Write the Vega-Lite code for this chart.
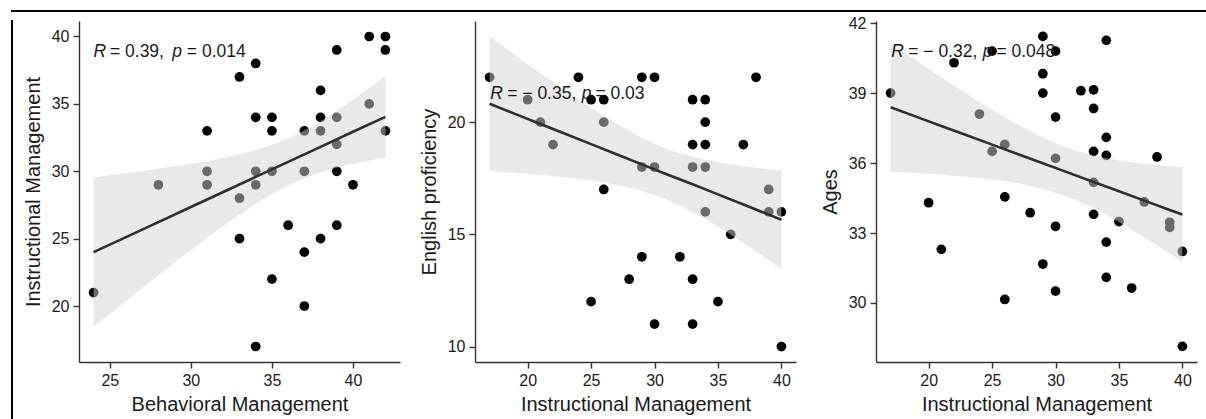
{
  "$schema": "https://vega.github.io/schema/vega-lite/v6.json",
  "padding": {"left": 11, "top": 10, "right": 0, "bottom": 0},
  "autosize": {"type": "pad"},
  "background": "white",
  "config": {
    "view": {"stroke": null},
    "font": "Liberation Sans",
    "axis": {
      "grid": false,
      "labelFont": "Liberation Sans",
      "titleFont": "Liberation Sans",
      "labelFontSize": 16,
      "titleFontSize": 20,
      "titleFontWeight": "normal",
      "labelColor": "#1a1a1a",
      "titleColor": "#1a1a1a",
      "domainColor": "#333333",
      "tickColor": "#333333",
      "domainWidth": 1.4,
      "tickWidth": 1.4,
      "tickSize": 6,
      "labelPadding": 4
    },
    "axisY": {"titlePadding": 8},
    "axisX": {"titlePadding": 6}
  },
  "datasets": {
    "p1pts": [
      {"x": 24, "y": 21}, {"x": 28, "y": 29}, {"x": 31, "y": 33}, {"x": 31, "y": 30}, {"x": 31, "y": 29},
      {"x": 33, "y": 37}, {"x": 33, "y": 28}, {"x": 33, "y": 25}, {"x": 34, "y": 38}, {"x": 34, "y": 34},
      {"x": 34, "y": 30}, {"x": 34, "y": 29}, {"x": 34, "y": 17}, {"x": 35, "y": 34}, {"x": 35, "y": 33},
      {"x": 35, "y": 30}, {"x": 35, "y": 22}, {"x": 36, "y": 26}, {"x": 37, "y": 33}, {"x": 37, "y": 30},
      {"x": 37, "y": 24}, {"x": 37, "y": 20}, {"x": 38, "y": 36}, {"x": 38, "y": 34}, {"x": 38, "y": 33},
      {"x": 38, "y": 25}, {"x": 39, "y": 39}, {"x": 39, "y": 34}, {"x": 39, "y": 32}, {"x": 39, "y": 30},
      {"x": 39, "y": 26}, {"x": 40, "y": 29}, {"x": 41, "y": 40}, {"x": 41, "y": 35}, {"x": 42, "y": 40},
      {"x": 42, "y": 39}, {"x": 42, "y": 33}
    ],
    "p1band": [
      {"x": 24, "lo": 18.46, "hi": 29.54, "fit": 24.0},
      {"x": 26, "lo": 20.38, "hi": 29.85, "fit": 25.12},
      {"x": 28, "lo": 22.28, "hi": 30.18, "fit": 26.23},
      {"x": 30, "lo": 24.15, "hi": 30.55, "fit": 27.35},
      {"x": 32, "lo": 25.94, "hi": 30.99, "fit": 28.46},
      {"x": 34, "lo": 27.58, "hi": 31.58, "fit": 29.58},
      {"x": 36, "lo": 28.94, "hi": 32.45, "fit": 30.7},
      {"x": 38, "lo": 29.91, "hi": 33.72, "fit": 31.81},
      {"x": 40, "lo": 30.55, "hi": 35.31, "fit": 32.93},
      {"x": 42, "lo": 31.01, "hi": 37.07, "fit": 34.04}
    ],
    "p1txt": [
      {"t": "R", "it": true, "x": 24.0, "y": 38.5},
      {"t": "= 0.39,", "it": false, "x": 25.01, "y": 38.5},
      {"t": "p", "it": true, "x": 28.85, "y": 38.5},
      {"t": "= 0.014", "it": false, "x": 29.75, "y": 38.5}
    ],
    "p2pts": [
      {"x": 17, "y": 22}, {"x": 20, "y": 21}, {"x": 21, "y": 20}, {"x": 22, "y": 19}, {"x": 24, "y": 22},
      {"x": 25, "y": 21}, {"x": 25, "y": 12}, {"x": 26, "y": 21}, {"x": 26, "y": 20}, {"x": 26, "y": 17},
      {"x": 28, "y": 13}, {"x": 29, "y": 22}, {"x": 29, "y": 18}, {"x": 29, "y": 14}, {"x": 30, "y": 22},
      {"x": 30, "y": 18}, {"x": 30, "y": 11}, {"x": 32, "y": 14}, {"x": 33, "y": 21}, {"x": 33, "y": 19},
      {"x": 33, "y": 18}, {"x": 33, "y": 13}, {"x": 33, "y": 11}, {"x": 34, "y": 21}, {"x": 34, "y": 20},
      {"x": 34, "y": 19}, {"x": 34, "y": 18}, {"x": 34, "y": 16}, {"x": 35, "y": 12}, {"x": 36, "y": 15},
      {"x": 37, "y": 19}, {"x": 38, "y": 22}, {"x": 39, "y": 17}, {"x": 39, "y": 16}, {"x": 40, "y": 16},
      {"x": 40, "y": 10}
    ],
    "p2band": [
      {"x": 17, "lo": 17.82, "hi": 23.82, "fit": 20.82},
      {"x": 19, "lo": 17.74, "hi": 23.0, "fit": 20.37},
      {"x": 21, "lo": 17.65, "hi": 22.19, "fit": 19.92},
      {"x": 23, "lo": 17.54, "hi": 21.4, "fit": 19.47},
      {"x": 25, "lo": 17.4, "hi": 20.64, "fit": 19.02},
      {"x": 27, "lo": 17.2, "hi": 19.94, "fit": 18.57},
      {"x": 29, "lo": 16.93, "hi": 19.31, "fit": 18.12},
      {"x": 31, "lo": 16.53, "hi": 18.81, "fit": 17.67},
      {"x": 33, "lo": 16.0, "hi": 18.46, "fit": 17.23},
      {"x": 35, "lo": 15.35, "hi": 18.21, "fit": 16.78},
      {"x": 37, "lo": 14.62, "hi": 18.04, "fit": 16.33},
      {"x": 39, "lo": 13.85, "hi": 17.91, "fit": 15.88},
      {"x": 40, "lo": 13.45, "hi": 17.85, "fit": 15.65}
    ],
    "p2txt": [
      {"t": "R", "it": true, "x": 17.05, "y": 21.04},
      {"t": "= − 0.35,", "it": false, "x": 18.39, "y": 21.04},
      {"t": "p", "it": true, "x": 24.27, "y": 21.04},
      {"t": "= 0.03", "it": false, "x": 25.34, "y": 21.04}
    ],
    "p3pts": [
      {"x": 17, "y": 39.0}, {"x": 20, "y": 34.3}, {"x": 21, "y": 32.3}, {"x": 22, "y": 40.3}, {"x": 24, "y": 38.1},
      {"x": 25, "y": 40.8}, {"x": 25, "y": 36.5}, {"x": 26, "y": 36.8}, {"x": 26, "y": 34.55}, {"x": 26, "y": 30.15},
      {"x": 28, "y": 33.87}, {"x": 29, "y": 41.43}, {"x": 29, "y": 39.83}, {"x": 29, "y": 39.0}, {"x": 29, "y": 31.67},
      {"x": 30, "y": 40.8}, {"x": 30, "y": 37.97}, {"x": 30, "y": 36.2}, {"x": 30, "y": 33.29}, {"x": 30, "y": 30.51},
      {"x": 32, "y": 39.1}, {"x": 33, "y": 39.14}, {"x": 33, "y": 38.34}, {"x": 33, "y": 36.5}, {"x": 33, "y": 35.17},
      {"x": 33, "y": 33.8}, {"x": 34, "y": 41.26}, {"x": 34, "y": 37.1}, {"x": 34, "y": 36.33}, {"x": 34, "y": 32.61},
      {"x": 34, "y": 31.1}, {"x": 35, "y": 33.49}, {"x": 36, "y": 30.64}, {"x": 37, "y": 34.33}, {"x": 38, "y": 36.26},
      {"x": 39, "y": 33.46}, {"x": 39, "y": 33.24}, {"x": 40, "y": 32.21}, {"x": 40, "y": 28.14}
    ],
    "p3band": [
      {"x": 17, "lo": 35.63, "hi": 41.15, "fit": 38.39},
      {"x": 19, "lo": 35.57, "hi": 40.41, "fit": 37.99},
      {"x": 21, "lo": 35.5, "hi": 39.68, "fit": 37.59},
      {"x": 23, "lo": 35.41, "hi": 38.97, "fit": 37.19},
      {"x": 25, "lo": 35.3, "hi": 38.28, "fit": 36.79},
      {"x": 27, "lo": 35.13, "hi": 37.65, "fit": 36.39},
      {"x": 29, "lo": 34.89, "hi": 37.09, "fit": 35.99},
      {"x": 31, "lo": 34.54, "hi": 36.64, "fit": 35.59},
      {"x": 33, "lo": 34.06, "hi": 36.32, "fit": 35.19},
      {"x": 35, "lo": 33.47, "hi": 36.11, "fit": 34.79},
      {"x": 37, "lo": 32.81, "hi": 35.97, "fit": 34.39},
      {"x": 39, "lo": 32.12, "hi": 35.86, "fit": 33.99},
      {"x": 40, "lo": 31.76, "hi": 35.82, "fit": 33.79}
    ],
    "p3txt": [
      {"t": "R", "it": true, "x": 17.05, "y": 40.56},
      {"t": "= − 0.32,", "it": false, "x": 18.39, "y": 40.56},
      {"t": "p", "it": true, "x": 24.27, "y": 40.56},
      {"t": "= 0.048", "it": false, "x": 25.34, "y": 40.56}
    ],
    "empty": []
  },
  "spacing": 2,
  "vconcat": [
    {
      "width": 1195, "height": 0.001,
      "view": {"stroke": "black", "strokeWidth": 2},
      "data": {"name": "empty"},
      "mark": "point"
    },
    {
      "spacing": 9,
      "hconcat": [
        {
          "width": 0.001, "height": 405,
          "view": {"stroke": "black", "strokeWidth": 2},
          "data": {"name": "empty"},
          "mark": "point"
        },
        {
          "spacing": 19,
          "hconcat": [
            {
              "width": 321, "height": 341,
              "layer": [
                {
                  "data": {"name": "p1pts"},
                  "mark": {"type": "circle", "size": 95, "color": "black", "opacity": 1},
                  "encoding": {
                    "x": {"field": "x", "type": "quantitative", "scale": {"domain": [23.1, 42.9], "nice": false, "zero": false}, "axis": {"title": "Behavioral Management", "values": [25, 30, 35, 40]}},
                    "y": {"field": "y", "type": "quantitative", "scale": {"domain": [15.85, 41.15], "nice": false, "zero": false}, "axis": {"title": "Instructional Management", "values": [20, 25, 30, 35, 40]}}
                  }
                },
                {
                  "data": {"name": "p1band"},
                  "mark": {"type": "area", "color": "#d3d3d3", "opacity": 0.5, "interpolate": "monotone"},
                  "encoding": {
                    "x": {"field": "x", "type": "quantitative", "scale": {"domain": [23.1, 42.9], "nice": false, "zero": false}, "axis": {"title": "Behavioral Management", "values": [25, 30, 35, 40]}},
                    "y": {"field": "lo", "type": "quantitative", "scale": {"domain": [15.85, 41.15], "nice": false, "zero": false}, "axis": {"title": "Instructional Management", "values": [20, 25, 30, 35, 40]}},
                    "y2": {"field": "hi"}
                  }
                },
                {
                  "data": {"name": "p1band"},
                  "mark": {"type": "line", "color": "#2e2e2e", "strokeWidth": 2.6},
                  "encoding": {
                    "x": {"field": "x", "type": "quantitative", "scale": {"domain": [23.1, 42.9], "nice": false, "zero": false}, "axis": {"title": "Behavioral Management", "values": [25, 30, 35, 40]}},
                    "y": {"field": "fit", "type": "quantitative", "scale": {"domain": [15.85, 41.15], "nice": false, "zero": false}, "axis": {"title": "Instructional Management", "values": [20, 25, 30, 35, 40]}}
                  }
                },
                {
                  "data": {"name": "p1txt"},
                  "transform": [{"filter": "datum.it"}],
                  "mark": {"type": "text", "align": "left", "baseline": "alphabetic", "fontSize": 17.5, "fontStyle": "italic", "color": "#1a1a1a", "font": "Liberation Sans"},
                  "encoding": {
                    "x": {"field": "x", "type": "quantitative", "scale": {"domain": [23.1, 42.9], "nice": false, "zero": false}, "axis": {"title": "Behavioral Management", "values": [25, 30, 35, 40]}},
                    "y": {"field": "y", "type": "quantitative", "scale": {"domain": [15.85, 41.15], "nice": false, "zero": false}, "axis": {"title": "Instructional Management", "values": [20, 25, 30, 35, 40]}},
                    "text": {"field": "t"}
                  }
                },
                {
                  "data": {"name": "p1txt"},
                  "transform": [{"filter": "!datum.it"}],
                  "mark": {"type": "text", "align": "left", "baseline": "alphabetic", "fontSize": 17.5, "color": "#1a1a1a", "font": "Liberation Sans"},
                  "encoding": {
                    "x": {"field": "x", "type": "quantitative", "scale": {"domain": [23.1, 42.9], "nice": false, "zero": false}, "axis": {"title": "Behavioral Management", "values": [25, 30, 35, 40]}},
                    "y": {"field": "y", "type": "quantitative", "scale": {"domain": [15.85, 41.15], "nice": false, "zero": false}, "axis": {"title": "Instructional Management", "values": [20, 25, 30, 35, 40]}},
                    "text": {"field": "t"}
                  }
                }
              ]
            },
            {
              "spacing": 24,
              "hconcat": [
                {
                  "width": 321, "height": 341,
                  "layer": [
                    {
                      "data": {"name": "p2pts"},
                      "mark": {"type": "circle", "size": 95, "color": "black", "opacity": 1},
                      "encoding": {
                        "x": {"field": "x", "type": "quantitative", "scale": {"domain": [15.85, 41.15], "nice": false, "zero": false}, "axis": {"title": "Instructional Management", "values": [20, 25, 30, 35, 40]}},
                        "y": {"field": "y", "type": "quantitative", "scale": {"domain": [9.31, 24.51], "nice": false, "zero": false}, "axis": {"title": "English proficiency", "values": [10, 15, 20]}}
                      }
                    },
                    {
                      "data": {"name": "p2band"},
                      "mark": {"type": "area", "color": "#d3d3d3", "opacity": 0.5, "interpolate": "monotone"},
                      "encoding": {
                        "x": {"field": "x", "type": "quantitative", "scale": {"domain": [15.85, 41.15], "nice": false, "zero": false}, "axis": {"title": "Instructional Management", "values": [20, 25, 30, 35, 40]}},
                        "y": {"field": "lo", "type": "quantitative", "scale": {"domain": [9.31, 24.51], "nice": false, "zero": false}, "axis": {"title": "English proficiency", "values": [10, 15, 20]}},
                        "y2": {"field": "hi"}
                      }
                    },
                    {
                      "data": {"name": "p2band"},
                      "mark": {"type": "line", "color": "#2e2e2e", "strokeWidth": 2.6},
                      "encoding": {
                        "x": {"field": "x", "type": "quantitative", "scale": {"domain": [15.85, 41.15], "nice": false, "zero": false}, "axis": {"title": "Instructional Management", "values": [20, 25, 30, 35, 40]}},
                        "y": {"field": "fit", "type": "quantitative", "scale": {"domain": [9.31, 24.51], "nice": false, "zero": false}, "axis": {"title": "English proficiency", "values": [10, 15, 20]}}
                      }
                    },
                    {
                      "data": {"name": "p2txt"},
                      "transform": [{"filter": "datum.it"}],
                      "mark": {"type": "text", "align": "left", "baseline": "alphabetic", "fontSize": 17.5, "fontStyle": "italic", "color": "#1a1a1a", "font": "Liberation Sans"},
                      "encoding": {
                        "x": {"field": "x", "type": "quantitative", "scale": {"domain": [15.85, 41.15], "nice": false, "zero": false}, "axis": {"title": "Instructional Management", "values": [20, 25, 30, 35, 40]}},
                        "y": {"field": "y", "type": "quantitative", "scale": {"domain": [9.31, 24.51], "nice": false, "zero": false}, "axis": {"title": "English proficiency", "values": [10, 15, 20]}},
                        "text": {"field": "t"}
                      }
                    },
                    {
                      "data": {"name": "p2txt"},
                      "transform": [{"filter": "!datum.it"}],
                      "mark": {"type": "text", "align": "left", "baseline": "alphabetic", "fontSize": 17.5, "color": "#1a1a1a", "font": "Liberation Sans"},
                      "encoding": {
                        "x": {"field": "x", "type": "quantitative", "scale": {"domain": [15.85, 41.15], "nice": false, "zero": false}, "axis": {"title": "Instructional Management", "values": [20, 25, 30, 35, 40]}},
                        "y": {"field": "y", "type": "quantitative", "scale": {"domain": [9.31, 24.51], "nice": false, "zero": false}, "axis": {"title": "English proficiency", "values": [10, 15, 20]}},
                        "text": {"field": "t"}
                      }
                    }
                  ]
                },
                {
                  "width": 321, "height": 341,
                  "layer": [
                    {
                      "data": {"name": "p3pts"},
                      "mark": {"type": "circle", "size": 95, "color": "black", "opacity": 1},
                      "encoding": {
                        "x": {"field": "x", "type": "quantitative", "scale": {"domain": [15.85, 41.15], "nice": false, "zero": false}, "axis": {"title": "Instructional Management", "values": [20, 25, 30, 35, 40]}},
                        "y": {"field": "y", "type": "quantitative", "scale": {"domain": [27.47, 42.09], "nice": false, "zero": false}, "axis": {"title": "Ages", "values": [30, 33, 36, 39, 42]}}
                      }
                    },
                    {
                      "data": {"name": "p3band"},
                      "mark": {"type": "area", "color": "#d3d3d3", "opacity": 0.5, "interpolate": "monotone"},
                      "encoding": {
                        "x": {"field": "x", "type": "quantitative", "scale": {"domain": [15.85, 41.15], "nice": false, "zero": false}, "axis": {"title": "Instructional Management", "values": [20, 25, 30, 35, 40]}},
                        "y": {"field": "lo", "type": "quantitative", "scale": {"domain": [27.47, 42.09], "nice": false, "zero": false}, "axis": {"title": "Ages", "values": [30, 33, 36, 39, 42]}},
                        "y2": {"field": "hi"}
                      }
                    },
                    {
                      "data": {"name": "p3band"},
                      "mark": {"type": "line", "color": "#2e2e2e", "strokeWidth": 2.6},
                      "encoding": {
                        "x": {"field": "x", "type": "quantitative", "scale": {"domain": [15.85, 41.15], "nice": false, "zero": false}, "axis": {"title": "Instructional Management", "values": [20, 25, 30, 35, 40]}},
                        "y": {"field": "fit", "type": "quantitative", "scale": {"domain": [27.47, 42.09], "nice": false, "zero": false}, "axis": {"title": "Ages", "values": [30, 33, 36, 39, 42]}}
                      }
                    },
                    {
                      "data": {"name": "p3txt"},
                      "transform": [{"filter": "datum.it"}],
                      "mark": {"type": "text", "align": "left", "baseline": "alphabetic", "fontSize": 17.5, "fontStyle": "italic", "color": "#1a1a1a", "font": "Liberation Sans"},
                      "encoding": {
                        "x": {"field": "x", "type": "quantitative", "scale": {"domain": [15.85, 41.15], "nice": false, "zero": false}, "axis": {"title": "Instructional Management", "values": [20, 25, 30, 35, 40]}},
                        "y": {"field": "y", "type": "quantitative", "scale": {"domain": [27.47, 42.09], "nice": false, "zero": false}, "axis": {"title": "Ages", "values": [30, 33, 36, 39, 42]}},
                        "text": {"field": "t"}
                      }
                    },
                    {
                      "data": {"name": "p3txt"},
                      "transform": [{"filter": "!datum.it"}],
                      "mark": {"type": "text", "align": "left", "baseline": "alphabetic", "fontSize": 17.5, "color": "#1a1a1a", "font": "Liberation Sans"},
                      "encoding": {
                        "x": {"field": "x", "type": "quantitative", "scale": {"domain": [15.85, 41.15], "nice": false, "zero": false}, "axis": {"title": "Instructional Management", "values": [20, 25, 30, 35, 40]}},
                        "y": {"field": "y", "type": "quantitative", "scale": {"domain": [27.47, 42.09], "nice": false, "zero": false}, "axis": {"title": "Ages", "values": [30, 33, 36, 39, 42]}},
                        "text": {"field": "t"}
                      }
                    }
                  ]
                }
              ]
            }
          ]
        }
      ]
    }
  ]
}
